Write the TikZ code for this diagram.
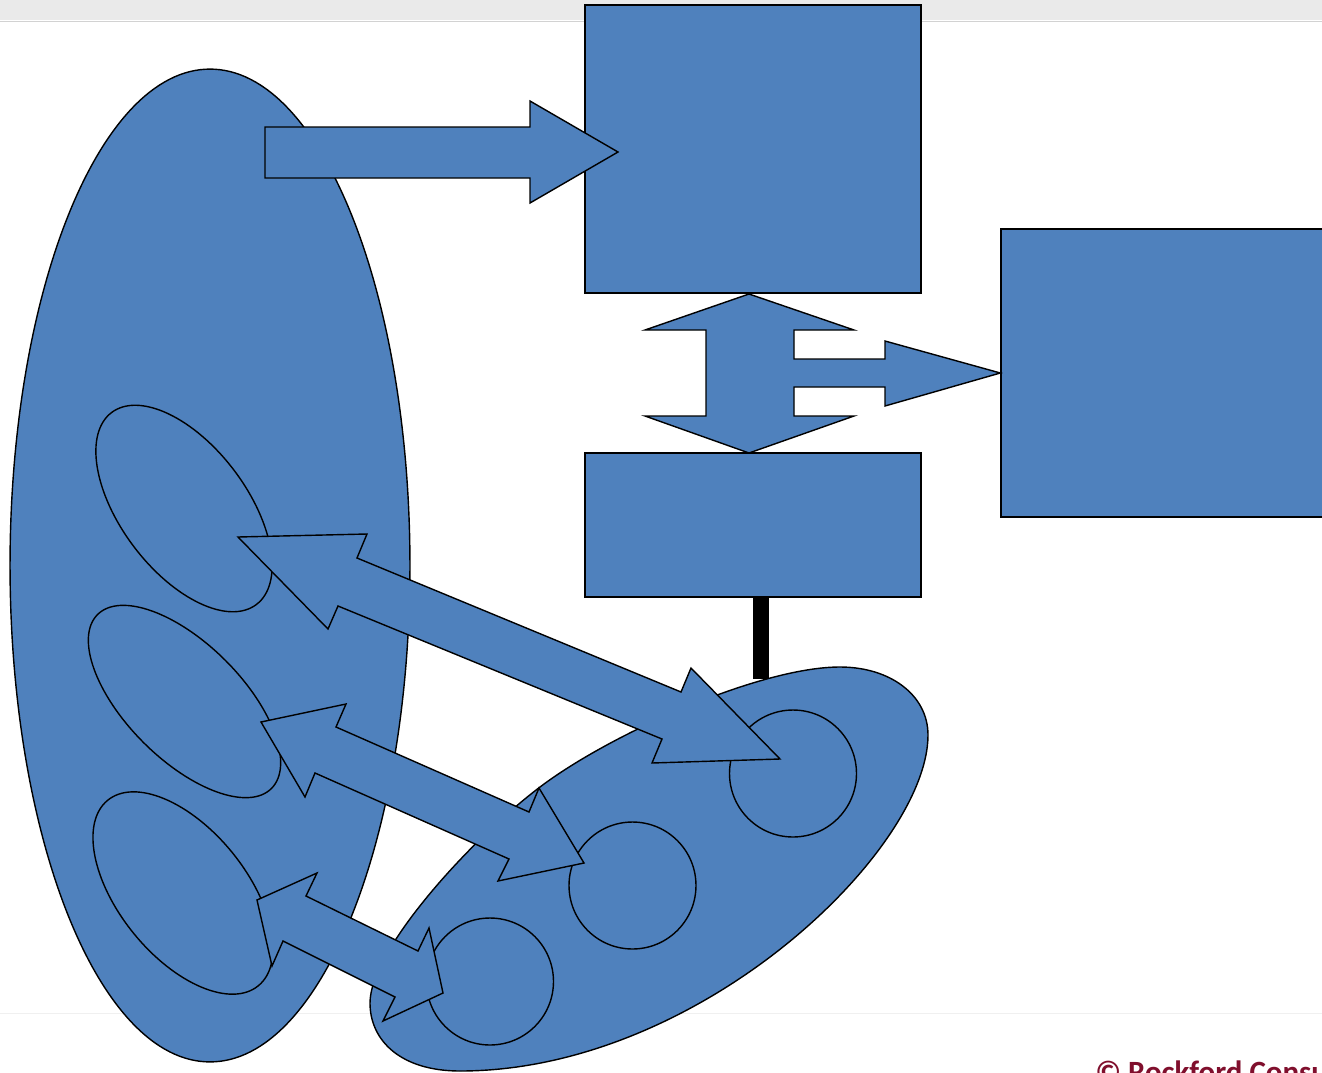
\documentclass[tikz,border=0pt]{standalone}
\usepackage{fontspec}
\usepackage{tikz}
\usepackage{xcolor}
\usetikzlibrary{shapes.geometric}
\newfontfamily\creditfont{Carlito}
\definecolor{blockblue}{RGB}{79,129,189}
\definecolor{bargray}{RGB}{234,234,234}
\definecolor{creditred}{RGB}{128,15,45}

\begin{document}
\begin{tikzpicture}[x=0.02cm,y=-0.02cm,
    blob/.style={draw=black,fill=blockblue,line width=0.8pt},
    box/.style={blob,rectangle,inner sep=0pt},
    oval/.style={blob,ellipse,inner sep=0pt},
    ring/.style={blob,circle,inner sep=0pt,minimum size=2.54cm}]
        \clip (0,0) rectangle (1322,1072);
        \fill[white] (0,0) rectangle (1322,1072);
        % slide frame
        \fill[bargray] (0,0) rectangle (1322,20);
        \draw[gray!35] (0,21) -- (1322,21);
        \draw[gray!12] (0,1013) -- (1322,1013);
        % left group
        \node[oval,minimum width=8cm,minimum height=19.86cm] (pool) at (210,565.5) {};
        \node[oval,minimum width=4.81cm,minimum height=2.52cm,rotate=-53] (g1) at (184,508.5) {};
        \node[oval,minimum width=4.92cm,minimum height=2.32cm,rotate=-45] (g2) at (184.5,701.5) {};
        \node[oval,minimum width=4.78cm,minimum height=2.55cm,rotate=-51] (g3) at (183,893) {};
        % blocks
        \node[box,minimum width=6.72cm,minimum height=5.76cm] (upper) at (753,149) {};
        \node[box,minimum width=6.72cm,minimum height=2.88cm] (lower) at (753,525) {};
        \node[box,minimum width=6.72cm,minimum height=5.76cm] (side) at (1169,373) {};
        \coordinate (tap) at (761,679);
        \draw[line width=0.32cm] (lower.south -| tap) -- (tap);
        % right group
        \draw[blob] (840,667) .. controls (890,667) and (928,695) .. (928,735)
          .. controls (928,850) and (700,1071) .. (460,1071)
          .. controls (400,1071) and (370,1040) .. (370,1003)
          .. controls (370,950) and (470,840) .. (540,787)
          .. controls (610,734) and (760,667) .. (840,667) -- cycle;
        \node[ring] (c1) at (793,773.5) {};
        \node[ring] (c2) at (632.5,885.5) {};
        \node[ring] (c3) at (490,981.5) {};
        % block arrows
        \draw[blob] (265,127) -- (530,127) -- (530,101) -- (618,152) -- (530,203) -- (530,178) -- (265,178) -- cycle;
        \draw[blob] (749,294) -- (854,330) -- (794,330) -- (794,359) -- (885,359) -- (885,341) -- (side.west)
          -- (885,406) -- (885,387) -- (794,387) -- (794,416) -- (854,416) -- (749,453)
          -- (645,416) -- (706,416) -- (706,330) -- (645,330) -- cycle;
        \draw[blob] (238,537) -- (367,534) -- (357,558) -- (681,692) -- (691,668) -- (780,759)
          -- (652,763) -- (662,739) -- (338,606) -- (328,629) -- cycle;
        \draw[blob] (261,722) -- (346,704) -- (336,727) -- (529,812) -- (539,788) -- (584,863)
          -- (498,881) -- (509,859) -- (315,773) -- (305,797) -- cycle;
        \draw[blob] (257,900) -- (317,873) -- (306,896) -- (418,951) -- (429,928) -- (443,993)
          -- (383,1021) -- (395,997) -- (283,941) -- (272,966) -- cycle;
        \node[anchor=base west,inner sep=0pt,text=creditred,
          font=\creditfont\bfseries\fontsize{17.6}{21}\selectfont] (credit) at (1095,1082) {© Rockford Consu};
      \end{tikzpicture}
\end{document}
